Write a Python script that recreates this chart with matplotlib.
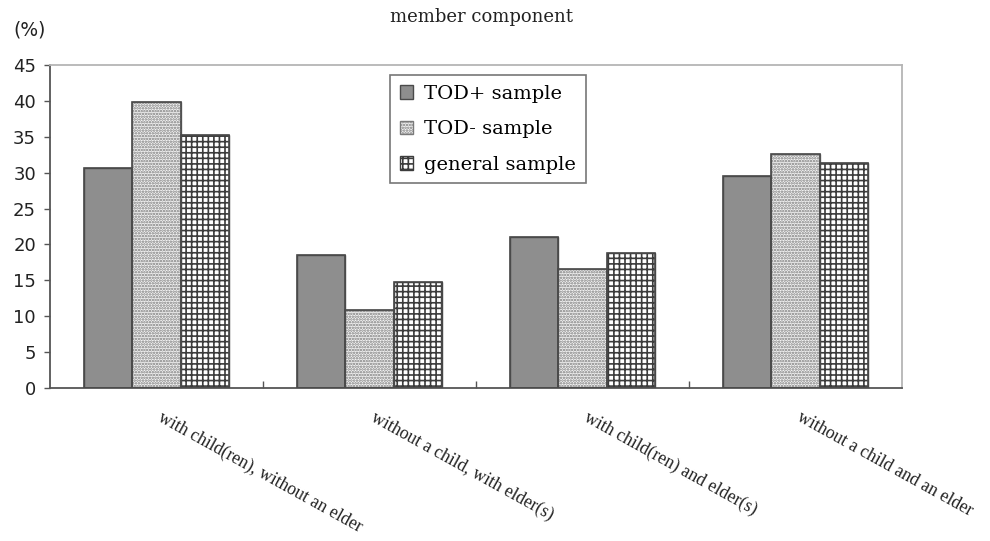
import matplotlib
matplotlib.use("Agg")
import matplotlib.pyplot as plt
import numpy as np

categories = [
    "with child(ren), without an elder",
    "without a child, with elder(s)",
    "with child(ren) and elder(s)",
    "without a child and an elder",
]
series_names = ["TOD+ sample", "TOD- sample", "general sample"]
tod_plus = [30.7, 18.5, 21.0, 29.6]
tod_minus = [39.9, 10.8, 16.6, 32.6]
general = [35.3, 14.7, 18.8, 31.3]
y_ticks = [0, 5, 10, 15, 20, 25, 30, 35, 40, 45]

plt.rcParams["hatch.linewidth"] = 1.2

fig = plt.figure(figsize=(9.9, 5.41), dpi=100)
ax = fig.add_axes([50 / 990, 1 - 388 / 541, 852 / 990, 323 / 541])

x = np.arange(len(categories))
w = 0.228
styles = [
    dict(facecolor="#8e8e8e", edgecolor="#4a4a4a", hatch=None),
    dict(facecolor="#f4f4f4", edgecolor="#7a7a7a", hatch="......"),
    dict(facecolor="white", edgecolor="#3c3c3c", hatch="+++"),
]
for i, (vals, name, st) in enumerate(zip([tod_plus, tod_minus, general], series_names, styles)):
    ax.bar(x + (i - 1) * w, vals, width=w, label=name,
           facecolor=st["facecolor"], edgecolor=st["edgecolor"],
           hatch=st["hatch"], linewidth=1.0, zorder=2)
    # dark outline drawn on top of the hatch
    ax.bar(x + (i - 1) * w, vals, width=w, facecolor="none",
           edgecolor="#4a4a4a", linewidth=1.2, zorder=3)

ax.set_xlim(-0.5, len(categories) - 0.5)
ax.set_ylim(0, 45)
ax.set_yticks(y_ticks)
ax.set_yticklabels([str(t) for t in y_ticks], fontsize=13, color="#222222")
ax.tick_params(axis="y", direction="out", length=4, width=1, color="#555555", pad=6)

# category boundaries as small inward ticks
ax.set_xticks(np.arange(0.5, len(categories) - 0.5, 1.0))
ax.set_xticklabels([])
ax.tick_params(axis="x", direction="in", length=5, width=1, color="#555555")

for side in ["left", "bottom"]:
    ax.spines[side].set_color("#555555")
    ax.spines[side].set_linewidth(1.3)
for side in ["top", "right"]:
    ax.spines[side].set_color("#b5b5b5")
    ax.spines[side].set_linewidth(1.3)

for xi, lab in zip(x, categories):
    ax.annotate(lab, xy=(xi, 0), xycoords="data",
                xytext=(5, -15), textcoords="offset points",
                rotation=-29, rotation_mode="anchor", ha="left", va="top",
                fontsize=12.8, family="Liberation Serif", color="#222222")

leg = ax.legend(loc="upper left", bbox_to_anchor=(0.399, 0.969),
                prop={"family": "DejaVu Serif", "size": 14},
                frameon=True, fancybox=False, borderpad=0.5,
                handlelength=0.7, handleheight=0.7, handletextpad=0.55,
                labelspacing=0.9, borderaxespad=0)
leg.get_frame().set_edgecolor("#555555")
leg.get_frame().set_linewidth(1.2)
leg.set_zorder(5)

fig.text(482 / 990, 1 - 17 / 541, "member component", ha="center", va="center",
         fontsize=13, family="DejaVu Serif", color="#222222")
fig.text(13 / 990, 1 - 30 / 541, "(%)", ha="left", va="center",
         fontsize=13.5, color="#222222")

fig.savefig("out.png", dpi=100)
